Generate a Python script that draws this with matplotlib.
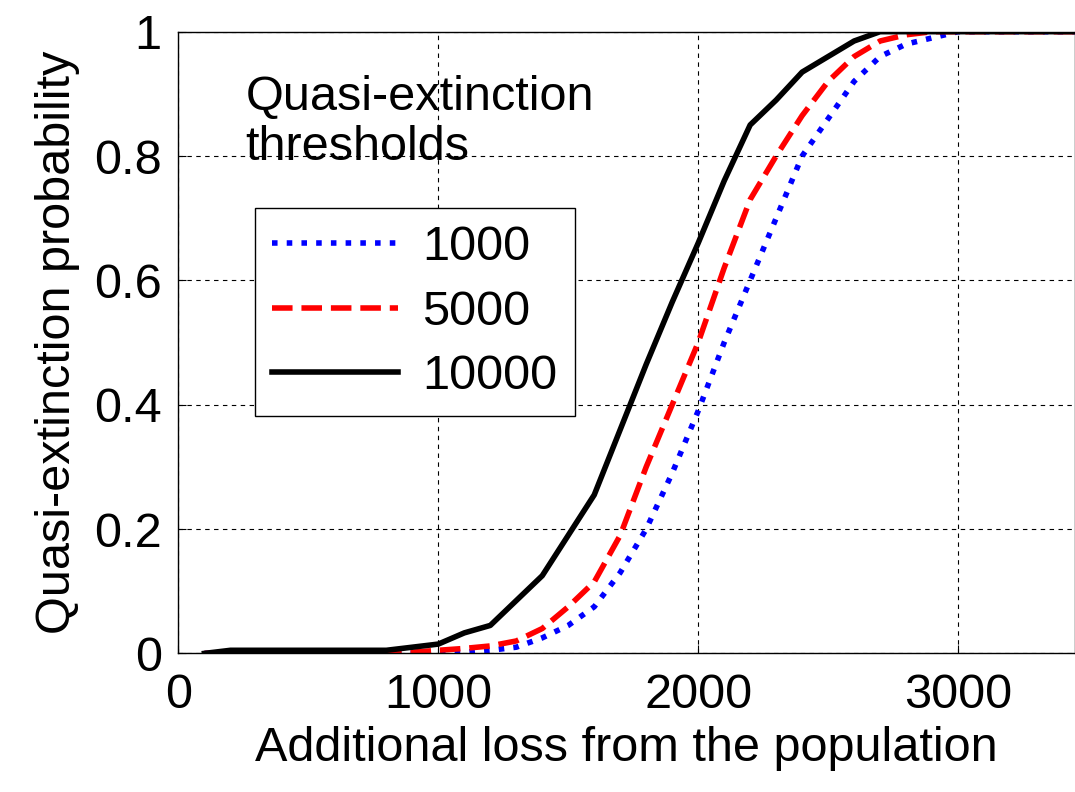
import numpy as np
import matplotlib
matplotlib.use('Agg')
import matplotlib.pyplot as plt

plt.rcParams['font.family'] = ['Arial', 'Liberation Sans', 'DejaVu Sans']

loss = list(range(100, 3600, 100))
p_1000 = [0, 0, 0, 0, 0, 0, 0, 0, 0, 0, 0.002, 0.005, 0.01, 0.025, 0.045, 0.075, 0.13, 0.2, 0.29,
          0.39, 0.5, 0.6, 0.7, 0.8, 0.86, 0.92, 0.96, 0.98, 0.99, 1, 1, 1, 1, 1, 1]
p_5000 = [0, 0, 0, 0, 0, 0, 0, 0, 0.002, 0.005, 0.008, 0.012, 0.02, 0.04, 0.075, 0.115, 0.19, 0.3, 0.4,
          0.5, 0.62, 0.73, 0.8, 0.865, 0.92, 0.96, 0.985, 0.995, 1, 1, 1, 1, 1, 1, 1]
p_10000 = [0, 0.005, 0.005, 0.005, 0.005, 0.005, 0.005, 0.005, 0.01, 0.015, 0.033, 0.045, 0.085, 0.125,
           0.19, 0.255, 0.36, 0.465, 0.565, 0.66, 0.76, 0.85, 0.89, 0.935, 0.96, 0.985, 1, 1, 1, 1,
           1, 1, 1, 1, 1]

fig = plt.figure(figsize=(10.75, 7.92), dpi=100)
ax = fig.add_axes([0.166, 0.175, 0.834, 0.785])
ax.plot(loss, p_1000, color='blue', linestyle=':', linewidth=4, label='1000')
ax.plot(loss, p_5000, color='red', linestyle='--', linewidth=4, label='5000')
ax.plot(loss, p_10000, color='black', linestyle='-', linewidth=4, label='10000')

ax.set_xlim(0, 3450)
ax.set_ylim(0, 1)
ax.set_xticks([0, 1000, 2000, 3000])
ax.set_yticks([0, 0.2, 0.4, 0.6, 0.8, 1])
ax.set_yticklabels(['0', '0.2', '0.4', '0.6', '0.8', '1'])
ax.tick_params(labelsize=35, direction='in', length=6)
ax.tick_params(axis='x', pad=14)
ax.tick_params(axis='y', pad=12)
ax.grid(True, color='black', linestyle='--', linewidth=0.8, dashes=(4, 4))
ax.set_xlabel('Additional loss from the population', fontsize=35, labelpad=6)
ax.set_ylabel('Quasi-extinction probability', fontsize=35, labelpad=10)
for s in ax.spines.values():
    s.set_linewidth(1)

ax.text(0.075, 0.93, 'Quasi-extinction\nthresholds', transform=ax.transAxes, fontsize=35,
        va='top', ha='left', linespacing=1.15)
leg = ax.legend(loc='upper left', bbox_to_anchor=(0.058, 0.755), fontsize=35, fancybox=False,
                edgecolor='black', framealpha=1, handlelength=2.6, borderpad=0.35, labelspacing=0.4,
                handletextpad=0.5)
leg.get_frame().set_linewidth(1)

fig.savefig('out.png', dpi=100)
